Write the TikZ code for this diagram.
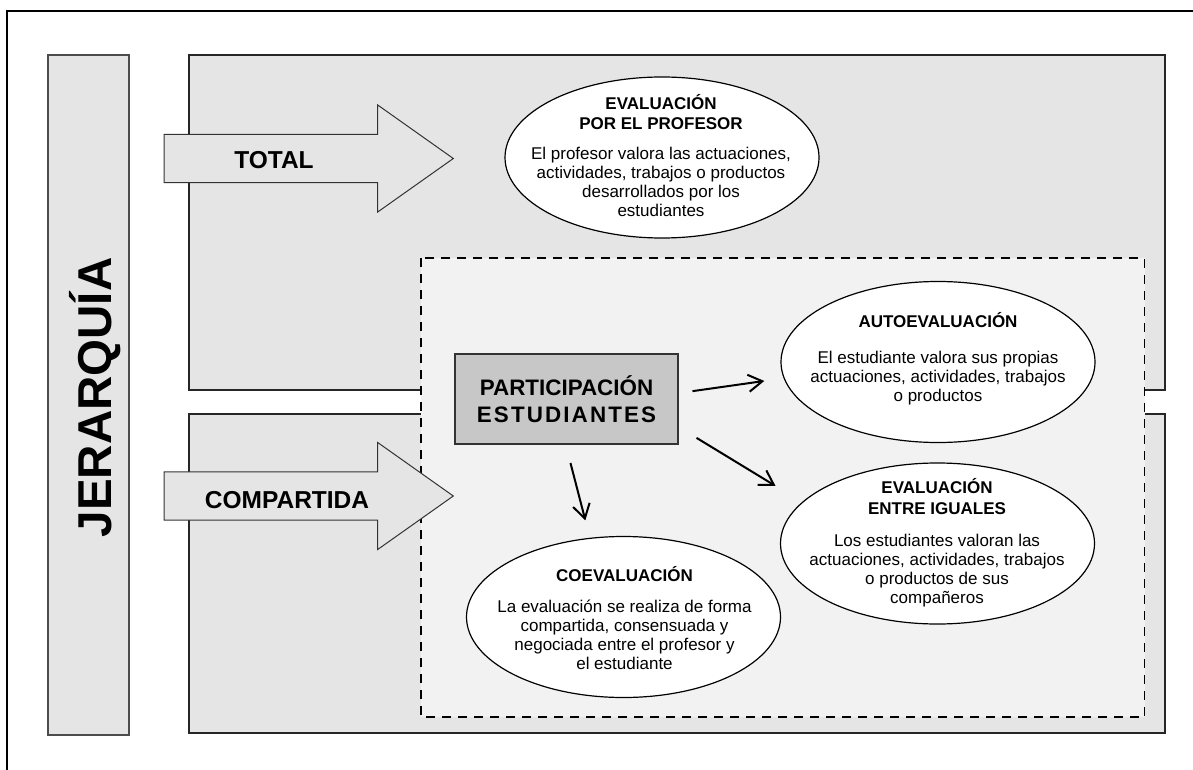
\documentclass[tikz,border=0pt]{standalone}
\usepackage{fontspec}
\setmainfont{Liberation Sans}
\usetikzlibrary{shapes.geometric, arrows.meta}

\definecolor{grisPanel}{gray}{0.90}
\definecolor{grisZona}{gray}{0.95}
\definecolor{grisCaja}{gray}{0.78}

\begin{document}
\begin{tikzpicture}[x=1pt, y=-1pt, >={Straight Barb[length=14pt,width=17pt]},
 panel/.style={draw=black!85, line width=1.6pt, fill=grisPanel},
 bloque/.style={draw=black!80, line width=1pt, fill=grisPanel},
 etiqueta/.style={font=\fontsize{24.5}{28}\selectfont\bfseries, anchor=base, inner sep=0pt},
 elipse/.style={ellipse, draw, line width=1.2pt, fill=white, minimum width=314pt, minimum height=161pt, inner sep=0pt},
 texto/.style={align=center, font=\fontsize{17}{19}\selectfont, inner sep=0pt},
 caja/.style={draw=black!80, line width=1.2pt, fill=grisCaja, minimum width=223pt, minimum height=90pt, inner sep=0pt, align=center, font=\fontsize{22.4}{26.7}\selectfont\bfseries},
 flecha/.style={->, line width=2pt}]

\useasboundingbox (0,0) rectangle (1193,770);
\draw[line width=1.6pt] (7,780) -- (7,11) -- (1200,11);

% barra lateral
\draw[draw=black!70, line width=1.4pt, fill=grisPanel] (48,55) rectangle (129,735);
\node[rotate=90, anchor=base, inner sep=0pt, font=\fontsize{47.5}{50}\selectfont\bfseries] (jerarquia) at (111,397.5) {JERARQUÍA};

% paneles y zona de participacion
\draw[panel] (189,55) rectangle (1165,390);
\draw[panel] (189,414) rectangle (1165,733);
\draw[dash pattern=on 9pt off 7pt, line width=1.2pt, fill=grisZona] (421,258) rectangle (1144.6,717);

% flechas grandes
\foreach \yc in {158.5,496}
  \draw[bloque] (164,\yc-24.2) -- (377.7,\yc-24.2) -- (377.7,\yc-53.5) -- (453.3,\yc)
    -- (377.7,\yc+53.5) -- (377.7,\yc+24.2) -- (164,\yc+24.2) -- cycle;

\node[etiqueta] (total) at (274,168.3) {TOTAL};
\node[etiqueta] (compartida) at (287,508) {COMPARTIDA};

% elipses
\node[elipse] (profesor) at (662,157.5) {};
\node[elipse] (auto) at (938,362) {};
\node[elipse] (iguales) at (937.5,543.5) {};
\node[elipse] (coeval) at (623.5,617) {};

\node[texto] (profesortxt) at (661,155.2) {\textbf{EVALUACIÓN}\\[1.5pt]\textbf{POR EL PROFESOR}\\[10.5pt]El profesor valora las actuaciones,\\actividades, trabajos o productos\\desarrollados por los\\estudiantes};
\node[texto] (autotxt) at (938,358.7) {\textbf{AUTOEVALUACIÓN}\\[17pt]El estudiante valora sus propias\\actuaciones, actividades, trabajos\\o productos};
\node[texto] (igualestxt) at (937,542.9) {\textbf{EVALUACIÓN}\\[1.3pt]\textbf{ENTRE IGUALES}\\[13.4pt]Los estudiantes valoran las\\actuaciones, actividades, trabajos\\o productos de sus\\compañeros};
\node[texto] (coevaltxt) at (624.5,618) {\textbf{COEVALUACIÓN}\\[12.3pt]La evaluación se realiza de forma\\compartida, consensuada y\\negociada entre el profesor y\\el estudiante};

% caja central
\node[caja] (part) at (566.5,399) {PARTICIPACIÓN\\{\addfontfeatures{LetterSpace=9.4}ESTUDIANTES}};

\foreach \s/\t/\a/\b in {part.3/auto.186/14/19.5, part.-14/iguales.163/21/31, part.-91/coeval.113/19/18}
  \draw[flecha, shorten <=\a pt, shorten >=\b pt] (\s) -- (\t);
\end{tikzpicture}
\end{document}
